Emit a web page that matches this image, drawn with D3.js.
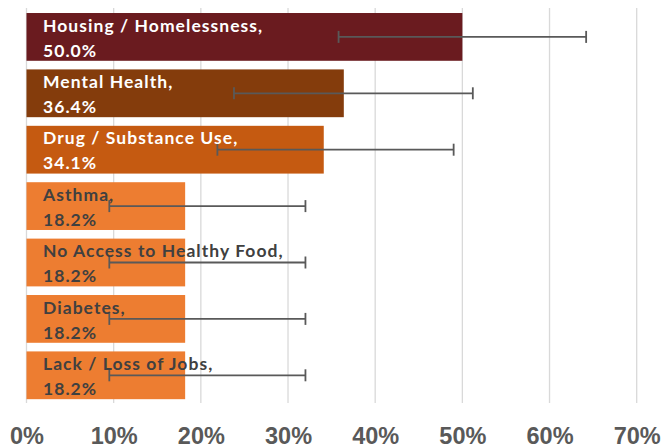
<!DOCTYPE html>
<html>
<head>
<meta charset="utf-8">
<script src="https://cdn.jsdelivr.net/npm/d3@7"></script>
<style>
  html, body { margin: 0; padding: 0; background: #ffffff; }
  svg { display: block; }
</style>
</head>
<body>
<div id="chart"></div>
<script>
const categories = [
  "Housing / Homelessness",
  "Mental Health",
  "Drug / Substance Use",
  "Asthma",
  "No Access to Healthy Food",
  "Diabetes",
  "Lack / Loss of Jobs"
];
const values = [50.0, 36.4, 34.1, 18.2, 18.2, 18.2, 18.2];
const errLow = [35.8, 23.8, 21.9, 9.5, 9.5, 9.5, 9.5];
const errHigh = [64.2, 51.2, 49.0, 32.0, 32.0, 32.0, 32.0];
const barColors = ["#6a1b1f", "#843c0c", "#c55a11", "#ed7d31", "#ed7d31", "#ed7d31", "#ed7d31"];
const labelColors = ["#ffffff", "#ffffff", "#ffffff", "#404040", "#404040", "#404040", "#404040"];
const tickValues = [0, 10, 20, 30, 40, 50, 60, 70];

const W = 662, H = 448;
const svg = d3.select("#chart").append("svg").attr("width", W).attr("height", H);

const x = d3.scaleLinear().domain([0, 70]).range([26.5, 636.7]);
const y = d3.scaleBand().domain(categories).range([8.7, 403.5]).paddingInner(0.153).paddingOuter(0.0765);

const data = categories.map((c, i) => ({c, v: values[i], lo: errLow[i], hi: errHigh[i], col: barColors[i], lc: labelColors[i]}));

// gridlines
svg.append("g").selectAll("line").data(tickValues).join("line")
  .attr("x1", d => x(d)).attr("x2", d => x(d))
  .attr("y1", 8).attr("y2", 403)
  .attr("stroke", "#d9d9d9").attr("stroke-width", 1.3);

// bars
svg.append("g").selectAll("rect").data(data).join("rect")
  .attr("x", x(0)).attr("y", d => y(d.c))
  .attr("width", d => x(d.v) - x(0)).attr("height", y.bandwidth())
  .attr("fill", d => d.col);

// error bars
const eg = svg.append("g").attr("stroke", "#595959").attr("stroke-width", 1.8).attr("fill", "none");
data.forEach(d => {
  const cy = y(d.c) + y.bandwidth() / 2;
  eg.append("line").attr("x1", x(d.lo)).attr("x2", x(d.hi)).attr("y1", cy).attr("y2", cy);
  eg.append("line").attr("x1", x(d.lo)).attr("x2", x(d.lo)).attr("y1", cy - 6).attr("y2", cy + 6);
  eg.append("line").attr("x1", x(d.hi)).attr("x2", x(d.hi)).attr("y1", cy - 6).attr("y2", cy + 6);
});

// labels
const lg = svg.append("g").attr("font-family", "Lato, 'Open Sans', sans-serif").attr("font-weight", "bold")
  .attr("font-size", "17.5px").attr("letter-spacing", "1.05px");
data.forEach(d => {
  const top = y(d.c);
  const t = lg.append("text").attr("fill", d.lc);
  t.append("tspan").attr("x", 43).attr("y", top + 18.5).text(d.c + ",");
  t.append("tspan").attr("x", 43).attr("y", top + 43.5).text(d.v.toFixed(1) + "%");
});

// x axis
const axis = d3.axisBottom(x).tickValues(tickValues).tickFormat(d => d + "%").tickSize(0);
const ag = svg.append("g").attr("transform", "translate(0,403)").call(axis);
ag.select(".domain").remove();
ag.selectAll("text")
  .attr("font-family", "'Liberation Sans', Arial, sans-serif")
  .attr("font-weight", "bold").attr("font-size", "23.5px")
  .attr("fill", "#595959").attr("dy", 0).attr("y", 41);
</script>
</body>
</html>
